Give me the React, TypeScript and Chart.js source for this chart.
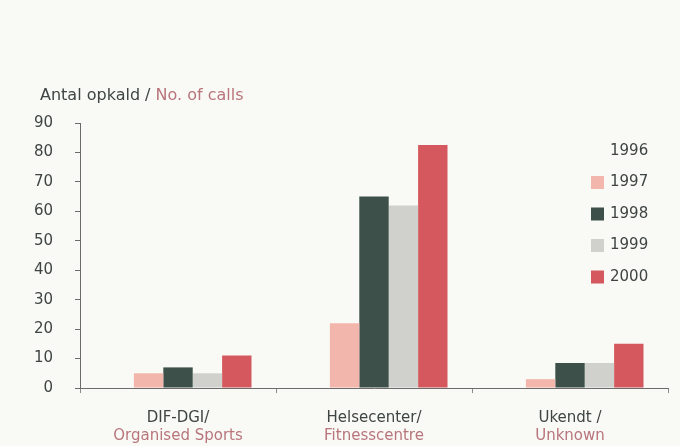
import React, { useEffect, useRef } from "react";
import { Chart, registerables } from "chart.js";

Chart.register(...registerables);

const categoriesDa = ["DIF-DGI/", "Helsecenter/", "Ukendt /"];
const categoriesEn = ["Organised Sports", "Fitnesscentre", "Unknown"];
const years = ["1996", "1997", "1998", "1999", "2000"];
const values1996 = [0, 0, 0];
const values1997 = [5, 22, 3];
const values1998 = [7, 65, 8.5];
const values1999 = [5, 62, 8.5];
const values2000 = [11, 82.5, 15];
const yMin = 0;
const yMax = 90;
const yStep = 10;
const titleDa = "Antal opkald / ";
const titleEn = "No. of calls";

const colors = ["rgba(0,0,0,0)", "#f3b6ad", "#3d514a", "#d0d0cd", "#d4585d"];
const DARK = "#3f4543";
const ROSE = "#b8757b";
const FAMILY = "'DejaVu Sans', Verdana, sans-serif";
const FONT = "15px " + FAMILY;
const TITLE_FONT = "16px " + FAMILY;

const overlay = {
  id: "overlay",
  afterDraw(chart: any) {
    const ctx = chart.ctx;
    const area = chart.chartArea;
    const xs = chart.scales.x;
    ctx.save();
    ctx.font = TITLE_FONT;
    ctx.textBaseline = "middle";
    ctx.textAlign = "left";
    ctx.fillStyle = DARK;
    ctx.fillText(titleDa, 40, 96);
    const w = ctx.measureText(titleDa).width;
    ctx.fillStyle = ROSE;
    ctx.fillText(titleEn, 40 + w, 96);

    ctx.font = FONT;
    ctx.textAlign = "center";
    categoriesDa.forEach((c, i) => {
      const cx = xs.getPixelForValue(i);
      ctx.fillStyle = DARK;
      ctx.fillText(c, cx, area.bottom + 30);
      ctx.fillStyle = ROSE;
      ctx.fillText(categoriesEn[i], cx, area.bottom + 48);
    });

    ctx.textAlign = "left";
    chart.data.datasets.forEach((ds: any, i: number) => {
      const y = area.top + 28 + i * 31.5;
      const bx = area.right - 77;
      ctx.fillStyle = ds.backgroundColor;
      ctx.fillRect(bx, y - 6.5, 13, 13);
      ctx.fillStyle = DARK;
      ctx.fillText(ds.label, bx + 19, y);
    });
    ctx.restore();
  },
};

export default function App() {
  const ref = useRef<HTMLCanvasElement | null>(null);
  useEffect(() => {
    if (!ref.current) return;
    const series = [values1996, values1997, values1998, values1999, values2000];
    const chart = new Chart(ref.current, {
      type: "bar",
      data: {
        labels: categoriesDa,
        datasets: years.map((y, i) => ({
          label: y,
          data: series[i],
          backgroundColor: colors[i],
          borderWidth: 0,
          categoryPercentage: 0.75,
          barPercentage: 1.0,
        })),
      },
      options: {
        animation: false,
        responsive: false,
        maintainAspectRatio: false,
        layout: { padding: { left: 0, right: 12, top: 123, bottom: 0 } },
        plugins: {
          legend: { display: false },
          tooltip: { enabled: false },
          title: { display: false },
        },
        scales: {
          x: {
            grid: {
              display: true,
              drawOnChartArea: false,
              drawTicks: true,
              tickLength: 5,
              color: "#8a8a8a",
              offset: true,
            },
            border: { display: true, color: "#6b6b6b", width: 1 },
            ticks: { display: false },
            afterFit(scale: any) {
              scale.height = 58;
            },
          },
          y: {
            min: yMin,
            max: yMax,
            grid: {
              display: true,
              drawOnChartArea: false,
              drawTicks: true,
              tickLength: 5,
              color: "#6b6b6b",
            },
            border: { display: true, color: "#6b6b6b", width: 1 },
            ticks: {
              stepSize: yStep,
              padding: 22,
              color: DARK,
              font: { family: FAMILY, size: 15 },
            },
            afterFit(scale: any) {
              scale.width = 80;
            },
          },
        },
      },
      plugins: [overlay],
    });
    return () => chart.destroy();
  }, []);

  return (
    <div
      style={{
        position: "fixed",
        left: 0,
        top: 0,
        width: 680,
        height: 446,
        background: "#f9f9f6",
      }}
    >
      <canvas ref={ref} width={680} height={446} style={{ display: "block" }} />
    </div>
  );
}
